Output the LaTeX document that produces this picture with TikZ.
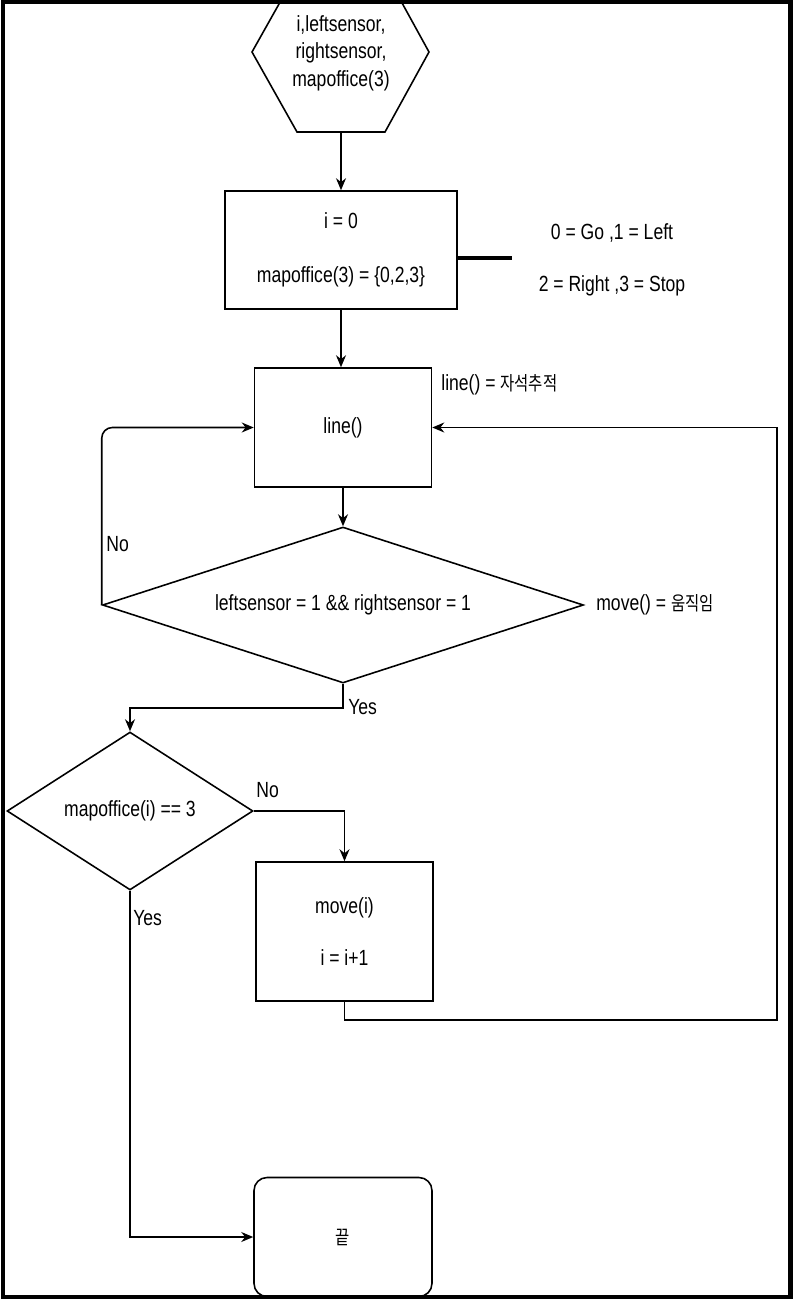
\documentclass[tikz,border=0pt]{standalone}
\usepackage{fontspec}
\setmainfont{Liberation Sans}[FakeStretch = 0.8]
\newfontfamily\kr{Noto Sans CJK KR}[FakeStretch = 0.8]
\usepackage{tikz}
\usetikzlibrary{arrows.meta}
\usetikzlibrary{shapes.geometric}
\usetikzlibrary{positioning}
\tikzset{proc/.style = {draw, line width = 0.9pt, inner sep = 0, minimum width = 3.54cm, minimum height = 2.38cm, align = center}}
\tikzset{cond/.style = {draw, diamond, line width = 0.9pt, inner sep = 0}}
\tikzset{flow/.style = {line width = 0.9pt, -{Stealth[length = 2.4mm, width = 2mm]}}}
\tikzset{lbl/.style = {anchor = west, inner sep = 0}}

\begin{document}
\begin{tikzpicture}[x = 0.02cm, y = -0.02cm, font = \fontsize{12.5}{15}\selectfont]
      \useasboundingbox (0, 0) rectangle (794, 1304);

      \draw [line width = 0.9pt] (252, 52) -- (297, 132) -- (385, 132) -- (429, 52) -- (385, -28) -- (297, -28) -- cycle;
      \node [align = center, font = \fontsize{12.5}{15.6}\selectfont] (input) at (341, 53) {i,leftsensor,\\rightsensor,\\mapoffice(3)};
      \coordinate (inbot) at (341, 132);

      \node [proc, minimum width = 4.64cm, minimum height = 2.36cm] (init) at (341, 250) {i = 0\\[15.6pt]mapoffice(3) = \{0,2,3\}};
      \coordinate (noteend) at (512, 258);
      \draw [line width = 2.5pt] (init.east |- noteend) -- (noteend);
      \node [align = center] (legend) at (612, 260) {0 = Go ,1 = Left\\[14.5pt]2 = Right ,3 = Stop};

      \node [proc] (linebox) at (343, 427.5) {line()};
      \node [lbl] (linenote) at (441, 385) {line() = {\kr\fontsize{11}{13}\selectfont 자석추적}};

      \node [cond, minimum width = 9.62cm, minimum height = 3.12cm, aspect = 3] (cond1) at (343, 605) {leftsensor = 1 \&\& rightsensor = 1};
      \node [lbl] (movenote) at (596, 605) {move() = {\kr\fontsize{11}{13}\selectfont 움직임}};

      \node [cond, minimum width = 4.92cm, minimum height = 3.16cm, aspect = 1.55] (cond2) at (130, 811) {mapoffice(i) == 3};

      \node [proc, minimum height = 2.78cm] (movebox) at (344.5, 931.5) {move(i)\\[15pt]i = i+1};

      \node [proc, rounded corners = 0.26cm, minimum width = 3.56cm] (endbox) at (343, 1237) {\kr\fontsize{11}{13}\selectfont 끝};

      \coordinate (yesturn) at (343, 708);
      \coordinate (rloop) at (777, 1020);

      \draw [flow] (inbot) -- (init.north);
      \draw [flow] (init.south) -- (init.south |- linebox.north);
      \draw [flow] (linebox.south) -- (cond1.north);
      \draw [flow, rounded corners = 6pt] (cond1.west) |- (linebox.west);
      \draw [flow] (movebox.south) |- (rloop) |- (linebox.east);
      \draw [flow] (cond1.south) -- (yesturn) -| (cond2.north);
      \draw [flow] (cond2.east) -| (movebox.north);
      \draw [flow] (cond2.south) |- (endbox.west);

      \node [lbl] (no1) at (106, 544) {No};
      \node [lbl] (yes1) at (348, 707) {Yes};
      \node [lbl] (no2) at (256, 790) {No};
      \node [lbl] (yes2) at (133, 918) {Yes};

      \draw [line width = 2.8pt] (3, 2) rectangle (790.5, 1297);
    \end{tikzpicture}
\end{document}
